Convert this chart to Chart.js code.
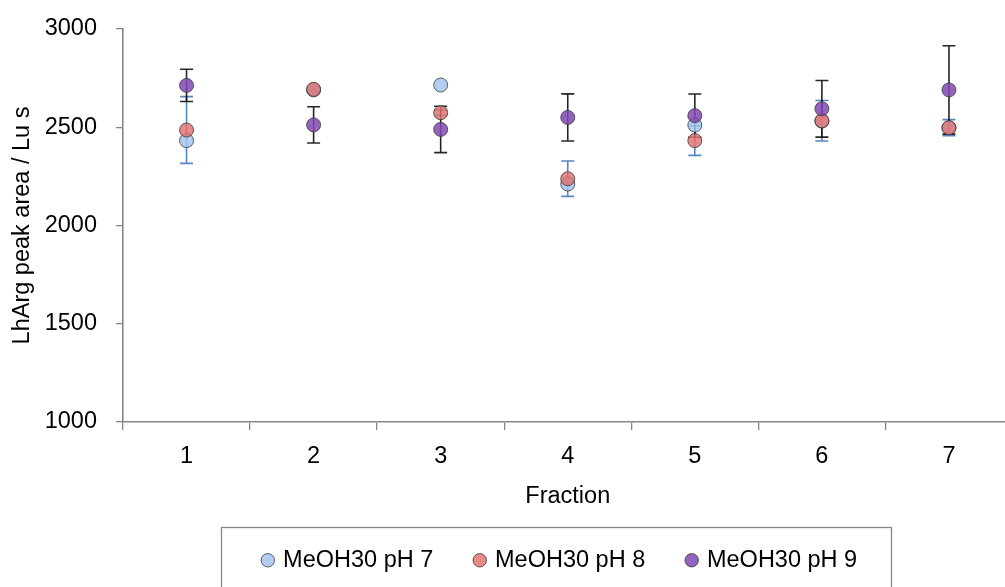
<!DOCTYPE html>
<html>
<head>
<meta charset="utf-8">
<script src="https://cdn.jsdelivr.net/npm/chart.js@4/dist/chart.umd.min.js"></script>
<style>
  html, body { margin: 0; padding: 0; background: #fff; overflow: hidden; }
  #wrap { position: absolute; left: 0; top: 0; }
</style>
</head>
<body>
<div id="wrap"><canvas id="myChart" width="1030" height="600"></canvas></div>
<script>
'use strict'

// values
const fractions = ['1', '2', '3', '4', '5', '6', '7'];
const seriesNames = ['MeOH30 pH 7', 'MeOH30 pH 8', 'MeOH30 pH 9'];

const ph7 = [2432, 2690, 2715, 2211, 2511, 2531, 2497];
const ph8 = [2486, 2693, 2574, 2238, 2432, 2533, 2498];
const ph9 = [2713, 2512, 2489, 2550, 2559, 2594, 2690];

// +/- error of each point (pH 7 shows none)
const ph8Err = [170, 12, 14, 90, 75, 103, 41];
const ph9Err = [82, 92, 118, 120, 110, 144, 225];

const yTicks = [1000, 1500, 2000, 2500, 3000];

const axisGrey = '#868686';
Chart.defaults.font.family = '"Liberation Sans", Arial, sans-serif';
Chart.defaults.font.size = 23.5;
Chart.defaults.color = '#000';

// error bars, drawn under the markers
const errorBars = {
  id: 'errorBars',
  beforeDatasetsDraw(chart) {
    const ctx = chart.ctx;
    const y = chart.scales.y;
    chart.data.datasets.forEach((ds, i) => {
      if (!ds.errors) return;
      const meta = chart.getDatasetMeta(i);
      ctx.save();
      ctx.strokeStyle = ds.errorColor;
      ctx.lineWidth = 1.6;
      meta.data.forEach((pt, j) => {
        const v = ds.data[j];
        const top = y.getPixelForValue(v + ds.errors[j]);
        const bot = y.getPixelForValue(v - ds.errors[j]);
        ctx.beginPath();
        ctx.moveTo(pt.x, top); ctx.lineTo(pt.x, bot);
        ctx.moveTo(pt.x - 6.5, top); ctx.lineTo(pt.x + 6.5, top);
        ctx.moveTo(pt.x - 6.5, bot); ctx.lineTo(pt.x + 6.5, bot);
        ctx.stroke();
      });
      ctx.restore();
    });
  }
};

// legend sits a little left of the plot centre
const legendShift = {
  id: 'legendShift',
  afterLayout(chart) {
    if (chart.legend) chart.legend.left -= 14;
  }
};

// frame round the legend
const legendFrame = {
  id: 'legendFrame',
  afterDraw(chart) {
    const lg = chart.legend;
    if (!lg || !lg.legendHitBoxes.length) return;
    const hb = lg.legendHitBoxes;
    const last = hb[hb.length - 1];
    const ctx = chart.ctx;
    ctx.save();
    ctx.strokeStyle = axisGrey;
    ctx.lineWidth = 1.3;
    ctx.strokeRect(Math.round(hb[0].left - 43) + 0.5, Math.round(lg.top + 21) + 0.5,
      Math.round(last.left + last.width + 34 - (hb[0].left - 43)), 200);
    ctx.restore();
  }
};

function pointSet(label, data, fill, order) {
  return {
    label: label,
    data: data,
    showLine: false,
    order: order,
    pointStyle: 'circle',
    pointRadius: 7,
    pointHoverRadius: 7,
    pointBackgroundColor: fill,
    pointBorderColor: 'rgba(50,50,50,0.75)',
    pointBorderWidth: 1,
    backgroundColor: fill,
    borderColor: 'rgba(50,50,50,0.75)'
  };
}

const ds7 = pointSet(seriesNames[0], ph7, 'rgba(165,197,236,0.85)', 3);
const ds8 = pointSet(seriesNames[1], ph8, 'rgba(224,112,112,0.82)', 2);
ds8.errors = ph8Err;
ds8.errorColor = 'rgba(79,129,189,0.95)';
const ds9 = pointSet(seriesNames[2], ph9, 'rgba(128,72,178,0.85)', 1);
ds9.errors = ph9Err;
ds9.errorColor = 'rgba(0,0,0,0.85)';

const config = {
  type: 'line',
  data: { labels: fractions, datasets: [ds7, ds8, ds9] },
  plugins: [errorBars, legendShift, legendFrame],
  options: {
    responsive: false,
    animation: false,
    devicePixelRatio: 1,
    layout: { padding: { left: 0, top: 29, right: 17.5, bottom: 18 } },
    plugins: {
      tooltip: { enabled: false },
      legend: {
        position: 'bottom',
        fullSize: false,
        labels: {
          usePointStyle: true,
          boxWidth: 7,
          boxHeight: 9.5,
          padding: 43,
          color: '#000',
          sort: (a, b) => a.datasetIndex - b.datasetIndex
        }
      }
    },
    scales: {
      x: {
        type: 'category',
        offset: true,
        afterFit(scale) { scale.height = 83.5; },
        grid: { offset: true, drawOnChartArea: false, tickLength: 8, color: axisGrey, lineWidth: 1.3 },
        border: { color: axisGrey, width: 1.6 },
        ticks: { padding: 12, color: '#000' },
        title: { display: true, text: 'Fraction', color: '#000', padding: { top: 0, bottom: -5 } }
      },
      y: {
        min: 1000,
        max: 3000,
        afterFit(scale) {
          scale.width = 123;
          scale.paddingTop = 14;
          scale.paddingBottom = 14;
        },
        afterBuildTicks(scale) { scale.ticks = yTicks.map(v => ({ value: v })); },
        grid: { drawOnChartArea: false, tickLength: 7, color: axisGrey, lineWidth: 1.3 },
        border: { color: axisGrey, width: 1.6 },
        ticks: { padding: 19, color: '#000', callback: v => String(v) },
        title: { display: true, text: 'LhArg peak area / Lu s', color: '#000', padding: { top: 8, bottom: 0 } }
      }
    }
  }
};

const myChart = new Chart(document.getElementById('myChart'), config);
</script>
</body>
</html>
